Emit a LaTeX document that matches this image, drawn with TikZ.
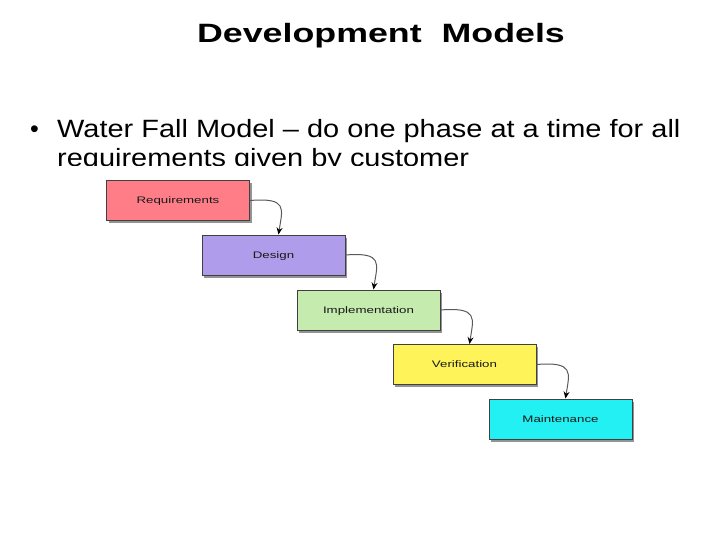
\documentclass[tikz,border=0pt]{standalone}
\usepackage{fontspec}
\setmainfont{Liberation Sans}
\usetikzlibrary{shadows,calc,arrows.meta}
\definecolor{reqc}{HTML}{FF7D87}
\definecolor{desc}{HTML}{AF9CEB}
\definecolor{impc}{HTML}{C6EBAF}
\definecolor{verc}{HTML}{FFF35A}
\definecolor{mntc}{HTML}{22F0F2}
\newcommand\stretchx[2]{\scalebox{#1}[1]{#2}}
\tikzset{
  phase/.style={draw=black!75, line width=1pt, minimum width=143pt, minimum height=40pt,
    inner sep=0pt, text height=6.5pt, text depth=0pt, font=\fontsize{9.5}{10}\selectfont, text=black!90,
    drop shadow={shadow xshift=2pt, shadow yshift=-2.5pt, opacity=0.6, fill=black!70}},
  conn/.style={draw=black!65, line width=1pt, -{Stealth[length=7pt,width=6pt,black]}},
  titletext/.style={font=\bfseries\fontsize{26.5}{30}\selectfont, inner sep=0pt},
  bodytext/.style={font=\fontsize{25}{30}\selectfont, inner sep=0pt, anchor=base west}
}
\begin{document}
\begin{tikzpicture}[x=1pt,y=-1pt]
\useasboundingbox[fill=white] (0,0) rectangle (720,540);
\node[titletext, anchor=base] (title) at (381,43) {\stretchx{1.35}{Development\ \ Models}};
\node[bodytext] (bullet) at (30,138) {•};
\node[bodytext] (line1) at (57,138) {\stretchx{1.158}{Water Fall Model – do one phase at a time for all}};
\node[bodytext] (line2) at (57,167) {\stretchx{1.158}{requirements given by customer}};
\fill[white] (20,166) rectangle (700,540);
\node[phase, fill=reqc] (req) at (178,200.5) {\stretchx{1.4}{Requirements}};
\node[phase, fill=desc] (des) at (273.5,255) {\stretchx{1.4}{Design}};
\node[phase, fill=impc] (imp) at (368.5,310) {\stretchx{1.4}{Implementation}};
\node[phase, fill=verc] (ver) at (464.5,364.5) {\stretchx{1.4}{Verification}};
\node[phase, fill=mntc] (mnt) at (560.5,419) {\stretchx{1.4}{Maintenance}};
\draw[conn] (req.east) .. controls +(38,-3) and +(4,-26) .. ($(des.north west)+(77,0)$);
\draw[conn] (des.east) .. controls +(38,-3) and +(4,-26) .. ($(imp.north west)+(77,0)$);
\draw[conn] (imp.east) .. controls +(38,-3) and +(4,-26) .. ($(ver.north west)+(77,0)$);
\draw[conn] (ver.east) .. controls +(38,-3) and +(4,-26) .. ($(mnt.north west)+(77,0)$);
\end{tikzpicture}
\end{document}
